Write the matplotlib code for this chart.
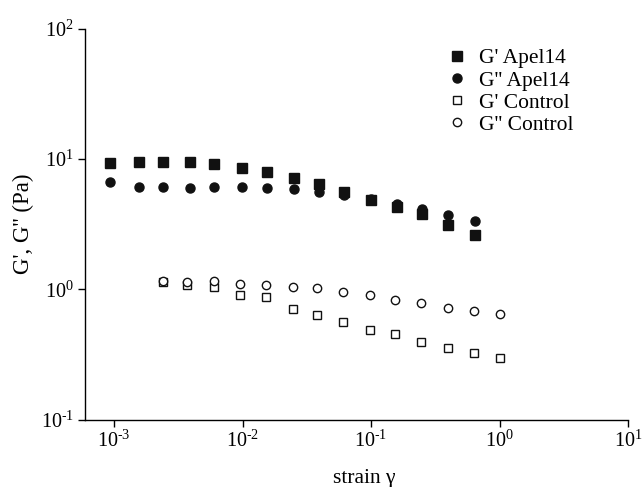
import matplotlib
matplotlib.use("Agg")
import numpy as np
import matplotlib.pyplot as plt
from matplotlib.ticker import LogLocator, FuncFormatter, NullLocator

plt.rcParams['font.family'] = ['Liberation Serif', 'DejaVu Serif']
plt.rcParams['mathtext.fontset'] = 'stix'
plt.rcParams['axes.unicode_minus'] = False

# Data
strain_apel = [0.00093, 0.00155, 0.0024, 0.0039, 0.006, 0.0099, 0.0155, 0.025,
               0.039, 0.062, 0.1, 0.158, 0.25, 0.40, 0.64]
gp_apel = [9.33, 9.55, 9.55, 9.44, 9.1, 8.55, 8.0, 7.16, 6.42, 5.59, 4.88,
           4.26, 3.79, 3.12, 2.63]
gpp_apel = [6.63, 6.14, 6.1, 6.03, 6.1, 6.1, 6.03, 5.85, 5.6, 5.31, 4.94,
            4.52, 4.11, 3.72, 3.35]

strain_ctrl = [0.0024, 0.0037, 0.006, 0.0096, 0.0152, 0.0245, 0.038, 0.06,
               0.098, 0.155, 0.245, 0.4, 0.63, 1.0]
gp_ctrl = [1.13, 1.08, 1.05, 0.906, 0.868, 0.707, 0.637, 0.562, 0.491, 0.457,
           0.392, 0.357, 0.323, 0.299]
gpp_ctrl = [1.15, 1.13, 1.15, 1.09, 1.08, 1.05, 1.03, 0.96, 0.90, 0.834,
            0.787, 0.724, 0.678, 0.643]

labels = ["G' Apel14", "G'' Apel14", "G' Control", "G'' Control"]


def pow10(v, pos):
    e = int(round(np.log10(v)))
    s = str(abs(e))
    if e < 0:
        s = r'\text{-}' + s
    return r'$\mathdefault{10^{%s}}$' % s


fig = plt.figure(figsize=(6.43, 4.87), dpi=100)
ax = fig.add_axes([0.1322, 0.1382, 0.9767 - 0.1322, 0.9411 - 0.1382])

ms = 6.5
ax.plot(strain_apel, gp_apel, linestyle='none', marker='s', ms=ms,
        mfc='#111111', mec='#111111', label=labels[0])
ax.plot(strain_apel, gpp_apel, linestyle='none', marker='o', ms=ms,
        mfc='#111111', mec='#111111', label=labels[1])
ax.plot(strain_ctrl, gp_ctrl, linestyle='none', marker='s', ms=ms - 0.5,
        mfc='white', mec='#111111', mew=1.0, label=labels[2])
ax.plot(strain_ctrl, gpp_ctrl, linestyle='none', marker='o', ms=ms - 0.5,
        mfc='white', mec='#111111', mew=1.0, label=labels[3])

ax.set_xscale('log')
ax.set_yscale('log')
ax.set_xlim(5.94e-4, 10)
ax.set_ylim(0.1, 100)

ax.xaxis.set_major_locator(LogLocator(base=10, numticks=10))
ax.yaxis.set_major_locator(LogLocator(base=10, numticks=10))
ax.xaxis.set_major_formatter(FuncFormatter(pow10))
ax.yaxis.set_major_formatter(FuncFormatter(pow10))
ax.xaxis.set_minor_locator(NullLocator())
ax.yaxis.set_minor_locator(NullLocator())

for s in ['top', 'right']:
    ax.spines[s].set_visible(False)
for s in ['left', 'bottom']:
    ax.spines[s].set_linewidth(1.0)

ax.tick_params(direction='out', length=5, width=1, labelsize=14.5, pad=3)

ax.set_xlabel('strain γ', fontsize=15.5, va='baseline')
ax.xaxis.set_label_coords(0.5138, -0.163)
ax.set_ylabel("G', G'' (Pa)", fontsize=16.5)
ax.yaxis.set_label_coords(-0.094, 0.5)

leg = ax.legend(loc='upper left', bbox_to_anchor=(0.665, 0.950), frameon=False,
                fontsize=15.5, handletextpad=0.55, labelspacing=0.1,
                handlelength=1.0, borderaxespad=0, borderpad=0)

fig.savefig('out.png', dpi=100)
